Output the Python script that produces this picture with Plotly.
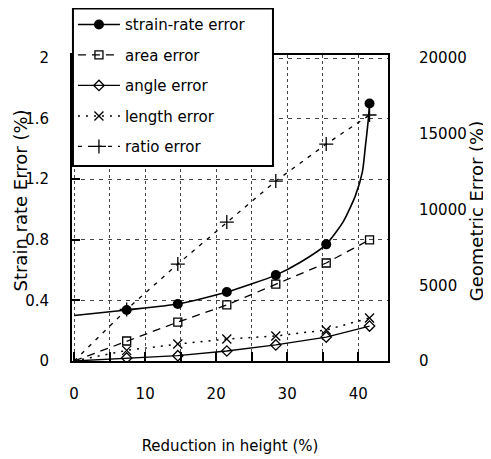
import plotly.graph_objects as go

# ---- data ----
reduction = [7.4, 14.6, 21.5, 28.4, 35.5, 41.6]          # Reduction in height (%)
strain_rate_err = [0.337, 0.376, 0.455, 0.567, 0.77, 1.70]  # left axis (%)
area_err = [1320, 2570, 3700, 5080, 6470, 8000]           # right axis (%)
angle_err = [200, 350, 660, 1060, 1580, 2310]
length_err = [700, 1120, 1450, 1650, 2050, 2840]
ratio_err = [3400, 6400, 9170, 11880, 14320, 16240]

# fitted strain-rate curve
fit_x = [0, 7.4, 14.6, 21.5, 28.4, 31.8, 35.5, 37.9, 39.6, 40.6, 41.0, 41.4, 41.6]
fit_y = [0.30, 0.337, 0.376, 0.455, 0.567, 0.65, 0.77, 0.92, 1.09, 1.25, 1.41, 1.58, 1.70]

# geometric error lines start at the origin
origin_x = [0]
origin_y = [0]

left_ticks = [0, 0.4, 0.8, 1.2, 1.6, 2]
left_ticktext = ["0", "0.4", "0.8", "1.2", "1.6", "2"]
right_ticks = [0, 5000, 10000, 15000, 20000]
right_ticktext = ["0", "5000", "10000", "15000", "20000"]
x_ticks = [0, 10, 20, 30, 40]

FONT = "DejaVu Sans"
fig = go.Figure()

# strain-rate: smooth fit + markers
fig.add_trace(go.Scatter(x=fit_x, y=fit_y, mode="lines", line=dict(color="black", width=1.6, shape="spline", smoothing=0.6),
                         showlegend=False, hoverinfo="skip"))
fig.add_trace(go.Scatter(x=reduction, y=strain_rate_err, mode="markers",
                         marker=dict(symbol="circle", size=10, color="black"), showlegend=False))

series = [
    ("area error", area_err, "square-open", dict(color="black", width=1.3, dash="8px,6px"), 8),
    ("angle error", angle_err, "diamond-open", dict(color="black", width=1.3), 8),
    ("length error", length_err, "x-thin-open", dict(color="black", width=1.5, dash="2px,6px"), 9),
    ("ratio error", ratio_err, "cross-thin-open", dict(color="black", width=1.3, dash="4px,6px"), 10),
]
for name, vals, sym, ln, sz in series:
    fig.add_trace(go.Scatter(x=origin_x + reduction, y=origin_y + vals, yaxis="y2", mode="lines",
                             line=ln, showlegend=False, hoverinfo="skip"))
    fig.add_trace(go.Scatter(x=reduction, y=vals, yaxis="y2", mode="markers",
                             marker=dict(symbol=sym, size=sz, color="black", line=dict(width=1.3, color="black")),
                             showlegend=False))

# legend entries
fig.add_trace(go.Scatter(x=[None], y=[None], mode="lines+markers", name="strain-rate error",
                         line=dict(color="black", width=1.6), marker=dict(symbol="circle", size=10, color="black"),
                         legendgroup="a"))
for i, (name, vals, sym, ln, sz) in enumerate(series):
    fig.add_trace(go.Scatter(x=[None], y=[None], yaxis="y2", mode="lines+markers", name=name, line=ln,
                             marker=dict(symbol=sym, size=sz, color="black", line=dict(width=1.3, color="black")),
                             legendgroup="g%d" % i))

fig.update_layout(
    width=491, height=459,
    margin=dict(l=64, r=111, t=47, b=106, autoexpand=False),
    plot_bgcolor="white", paper_bgcolor="white",
    font=dict(family=FONT, size=15, color="black"),
    xaxis=dict(range=[-0.3, 44.2], tickvals=x_ticks, showline=True, linecolor="black", linewidth=2,
               mirror=True, ticks="inside", ticklen=9, tickwidth=2, tickcolor="black",
               showgrid=True, gridcolor="#444", griddash="dot", gridwidth=1, zeroline=False,
               minor=dict(dtick=5, ticks="inside", ticklen=9, tickwidth=2, tickcolor="black",
                          showgrid=True, gridcolor="#444", griddash="dot", gridwidth=1),
               ticklabelstandoff=18, automargin=False,
               title=dict(text="Reduction in height (%)", font=dict(size=15), standoff=38)),
    yaxis=dict(range=[0, 2.02], tickvals=left_ticks, ticktext=left_ticktext, showline=True,
               linecolor="black", linewidth=2, ticks="inside", ticklen=8, tickwidth=2, tickcolor="black",
               showgrid=True, gridcolor="#444", griddash="4px,5px", gridwidth=1, zeroline=False,
               ticklabelstandoff=18, automargin=False),
    yaxis2=dict(range=[0, 20200], tickvals=right_ticks, ticktext=right_ticktext, overlaying="y", side="right",
                showline=True, linecolor="black", linewidth=2, ticks="", showgrid=False, zeroline=False,
                ticklabelstandoff=26, automargin=False),
    legend=dict(x=0.003, y=1.153, xanchor="left", yanchor="top", bgcolor="rgba(0,0,0,0)",
                borderwidth=0, font=dict(size=15),
                traceorder="grouped", tracegroupgap=8, itemwidth=42),
    showlegend=True,
    shapes=[
        dict(type="rect", xref="paper", yref="paper", x0=0.003, x1=0.636, y0=0.637, y1=1.152,
             line=dict(color="black", width=2), fillcolor="white", layer="above"),
    ],
    annotations=[
        dict(text="Strain rate Error (%)", xref="paper", yref="paper", x=-0.163, y=0.526,
             textangle=-90, showarrow=False, font=dict(size=18), xanchor="center", yanchor="middle"),
        dict(text="Geometric Error (%)", xref="paper", yref="paper", x=1.279, y=0.49,
             textangle=-90, showarrow=False, font=dict(size=18), xanchor="center", yanchor="middle"),
    ],
)

fig.write_html("out.html")
